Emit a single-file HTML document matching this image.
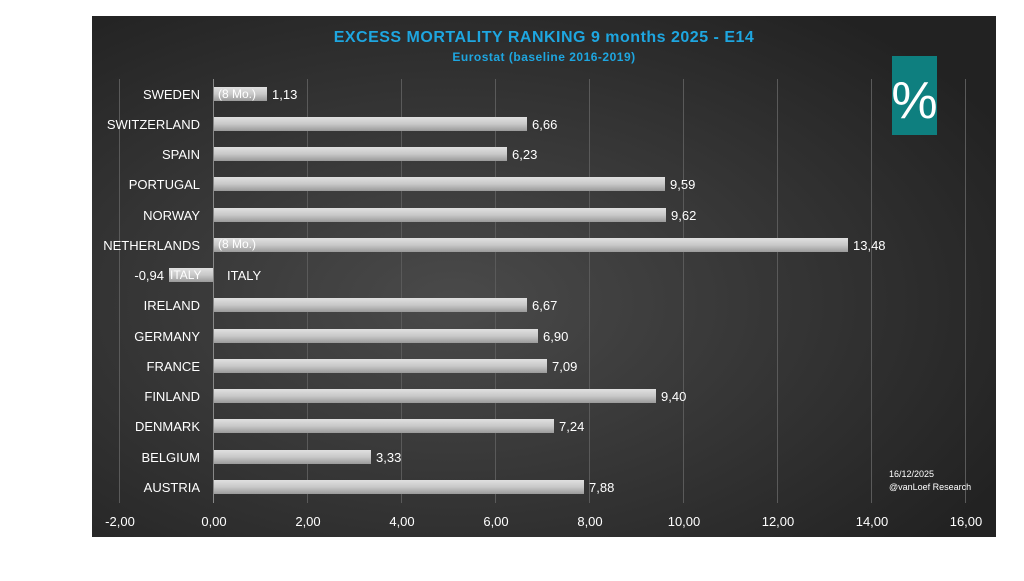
<!DOCTYPE html>
<html><head><meta charset="utf-8"><style>
body{margin:0;background:#fff;width:1024px;height:576px;overflow:hidden;font-family:"Liberation Sans",sans-serif}
</style></head><body>
<svg width="1024" height="576" xmlns="http://www.w3.org/2000/svg">
<defs>
<radialGradient id="bg" cx="0.4" cy="0.55" r="0.7">
<stop offset="0" stop-color="#4a4a4a"/><stop offset="1" stop-color="#222"/>
</radialGradient>
<linearGradient id="bar" x1="0" y1="0" x2="0" y2="1">
<stop offset="0" stop-color="#e0e0e0"/><stop offset="0.5" stop-color="#c8c8c8"/><stop offset="1" stop-color="#9a9a9a"/>
</linearGradient>
</defs>
<rect x="92" y="16" width="904" height="521" fill="url(#bg)"/>
<g stroke="#5a5a5a" stroke-width="1">
<line x1="119.5" y1="79" x2="119.5" y2="503"/>
<line x1="307.5" y1="79" x2="307.5" y2="503"/>
<line x1="401.5" y1="79" x2="401.5" y2="503"/>
<line x1="495.5" y1="79" x2="495.5" y2="503"/>
<line x1="589.5" y1="79" x2="589.5" y2="503"/>
<line x1="683.5" y1="79" x2="683.5" y2="503"/>
<line x1="777.5" y1="79" x2="777.5" y2="503"/>
<line x1="871.5" y1="79" x2="871.5" y2="503"/>
<line x1="965.5" y1="79" x2="965.5" y2="503"/>
</g>
<line x1="213.5" y1="79" x2="213.5" y2="503" stroke="#888" stroke-width="1"/>
<text x="544" y="42" fill="#1ea6e0" font-size="16" font-weight="bold" text-anchor="middle" letter-spacing="0.5">EXCESS MORTALITY RANKING 9 months 2025 - E14</text>
<text x="544" y="61" fill="#1ea6e0" font-size="12" font-weight="bold" text-anchor="middle" letter-spacing="0.5">Eurostat (baseline 2016-2019)</text>
<rect x="892" y="56" width="45" height="79" fill="#0e7f7f"/>
<text x="914.5" y="118" fill="#fff" font-size="52" text-anchor="middle">%</text>
<g font-size="13" fill="#fff">
<g text-anchor="end">
<text x="200" y="99">SWEDEN</text>
<text x="200" y="129">SWITZERLAND</text>
<text x="200" y="159">SPAIN</text>
<text x="200" y="189">PORTUGAL</text>
<text x="200" y="220">NORWAY</text>
<text x="200" y="250">NETHERLANDS</text>
<text x="164" y="280">-0,94</text>
<text x="200" y="310">IRELAND</text>
<text x="200" y="341">GERMANY</text>
<text x="200" y="371">FRANCE</text>
<text x="200" y="401">FINLAND</text>
<text x="200" y="431">DENMARK</text>
<text x="200" y="462">BELGIUM</text>
<text x="200" y="492">AUSTRIA</text>
</g>
<g fill="url(#bar)">
<rect x="214" y="87" width="53" height="14"/>
<rect x="214" y="117" width="313" height="14"/>
<rect x="214" y="147" width="293" height="14"/>
<rect x="214" y="177" width="451" height="14"/>
<rect x="214" y="208" width="452" height="14"/>
<rect x="214" y="238" width="634" height="14"/>
<rect x="169" y="268" width="44" height="14"/>
<rect x="214" y="298" width="313" height="14"/>
<rect x="214" y="329" width="324" height="14"/>
<rect x="214" y="359" width="333" height="14"/>
<rect x="214" y="389" width="442" height="14"/>
<rect x="214" y="419" width="340" height="14"/>
<rect x="214" y="450" width="157" height="14"/>
<rect x="214" y="480" width="370" height="14"/>
</g>
<text x="218" y="98" font-size="12">(8 Mo.)</text>
<text x="218" y="248" font-size="12">(8 Mo.)</text>
<text x="170" y="279" font-size="12">ITALY</text>
<text x="227" y="280">ITALY</text>
<text x="272" y="99">1,13</text>
<text x="532" y="129">6,66</text>
<text x="512" y="159">6,23</text>
<text x="670" y="189">9,59</text>
<text x="671" y="220">9,62</text>
<text x="853" y="250">13,48</text>
<text x="532" y="310">6,67</text>
<text x="543" y="341">6,90</text>
<text x="552" y="371">7,09</text>
<text x="661" y="401">9,40</text>
<text x="559" y="431">7,24</text>
<text x="376" y="462">3,33</text>
<text x="589" y="492">7,88</text>
<g text-anchor="middle">
<text x="120" y="526">-2,00</text>
<text x="214" y="526">0,00</text>
<text x="308" y="526">2,00</text>
<text x="402" y="526">4,00</text>
<text x="496" y="526">6,00</text>
<text x="590" y="526">8,00</text>
<text x="684" y="526">10,00</text>
<text x="778" y="526">12,00</text>
<text x="872" y="526">14,00</text>
<text x="966" y="526">16,00</text>
</g>
<text x="889" y="477" font-size="9">16/12/2025</text>
<text x="889" y="490" font-size="9">@vanLoef Research</text>
</g>
</svg>
</body></html>
